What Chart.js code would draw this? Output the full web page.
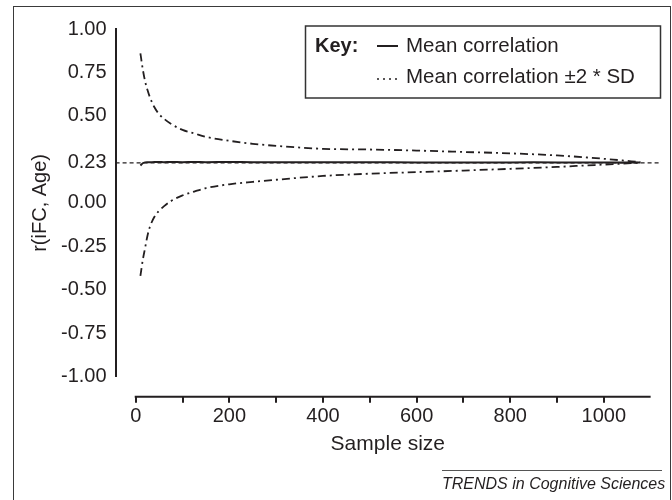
<!DOCTYPE html>
<html>
<head>
<meta charset="utf-8">
<title>Mean correlation by sample size</title>
<script src="https://cdn.jsdelivr.net/npm/chart.js@4.4.1/dist/chart.umd.min.js"></script>
<style>
    html, body { margin: 0; padding: 0; background: #fff; overflow: hidden; }
    #wrap { position: relative; width: 672px; height: 500px; }
    #frame { position: absolute; left: 13px; top: 6px; width: 658px; height: 520px; border: 1.5px solid #3a3a3a; box-sizing: border-box; }
    #chart { position: absolute; left: 0; top: 0; }
    #source {
        position: absolute; left: 442px; top: 470px; width: 220px;
        border-top: 1.5px solid #555; padding-top: 3px;
        font: italic 16px "Liberation Sans", Arial, sans-serif; line-height: 19px;
        color: #231f20; text-align: right; white-space: nowrap;
    }
</style>
</head>
<body>
<div id="wrap">
    <div id="frame"></div>
    <canvas id="chart" width="672" height="500"></canvas>
    <div id="source">TRENDS in Cognitive Sciences</div>
</div>
<script>
// valeurs
const sampleSize = [10, 15, 20, 25, 30, 40, 50, 60, 75, 100, 125, 150, 200, 250, 300, 400, 500, 600, 700, 800, 900, 960, 1020, 1078];
const meanCorr   = [0.215, 0.228, 0.233, 0.234, 0.234, 0.235, 0.235, 0.234, 0.235, 0.234, 0.235, 0.234, 0.235, 0.234, 0.234, 0.234, 0.234, 0.233, 0.233, 0.233, 0.233, 0.232, 0.232, 0.232];
const upperBand  = [0.86, 0.77, 0.70, 0.65, 0.61, 0.55, 0.51, 0.485, 0.455, 0.42, 0.40, 0.38, 0.357, 0.34, 0.328, 0.311, 0.307, 0.301, 0.293, 0.285, 0.273, 0.262, 0.249, 0.234];
const lowerBand  = [-0.42, -0.33, -0.26, -0.19, -0.14, -0.08, -0.045, -0.02, 0.01, 0.043, 0.065, 0.085, 0.107, 0.121, 0.133, 0.155, 0.168, 0.177, 0.186, 0.196, 0.207, 0.215, 0.223, 0.232];
const refCorr = 0.23;

const yTickValues = [1, 0.75, 0.5, 0.23, 0, -0.25, -0.5, -0.75, -1];
const xTickValues = [0, 100, 200, 300, 400, 500, 600, 700, 800, 900, 1000];
const xLabelValues = [0, 200, 400, 600, 800, 1000];
const xMin = -43;
const xMax = 1120;
const xAxisEnd = 1100;

const labelMean = "Mean correlation";
const labelBand = "Mean correlation \u00b12 * SD";

const ink = "#231f20";
const fontFamily = '"Liberation Sans", Arial, Helvetica, sans-serif';

Chart.defaults.font.family = fontFamily;
Chart.defaults.font.size = 20;
Chart.defaults.color = ink;

function serie(valeurs) {
    return sampleSize.map((n, i) => ({ x: n, y: valeurs[i] }));
}

// axe des x décalé sous la zone du graphique
const axeXDecale = {
    id: "axeXDecale",
    afterDraw(chart) {
        const { ctx, chartArea, scales } = chart;
        const x = scales.x;
        const y0 = chartArea.bottom + 20;
        ctx.save();
        ctx.strokeStyle = ink;
        ctx.lineWidth = 2;
        ctx.beginPath();
        ctx.moveTo(x.getPixelForValue(0) - 1, y0);
        ctx.lineTo(x.getPixelForValue(xAxisEnd), y0);
        x.ticks.forEach(t => {
            const px = Math.round(x.getPixelForValue(t.value));
            ctx.moveTo(px, y0);
            ctx.lineTo(px, y0 + 6);
        });
        ctx.stroke();
        ctx.restore();
    }
};

// encadré "Key:"
const cle = {
    id: "cle",
    afterDraw(chart) {
        const { ctx } = chart;
        const ds = chart.data.datasets;
        ctx.save();
        ctx.strokeStyle = "#333";
        ctx.lineWidth = 1.5;
        ctx.strokeRect(305.5, 26, 355, 72);

        ctx.fillStyle = ink;
        ctx.textBaseline = "middle";
        ctx.font = "bold 20px " + fontFamily;
        ctx.fillText("Key:", 315, 46);

        ctx.font = "20.5px " + fontFamily;
        ctx.fillText(ds[0].label, 406, 46);
        ctx.fillText(ds[1].label, 406, 77);

        ctx.strokeStyle = ink;
        ctx.lineWidth = 2;
        ctx.beginPath();
        ctx.moveTo(377, 46);
        ctx.lineTo(398, 46);
        ctx.stroke();

        ctx.lineWidth = 1.6;
        ctx.setLineDash([2, 4]);
        ctx.beginPath();
        ctx.moveTo(377, 79);
        ctx.lineTo(400, 79);
        ctx.stroke();
        ctx.restore();
    }
};

new Chart(document.getElementById("chart"), {
    type: "line",
    data: {
        datasets: [
            {
                label: labelMean,
                data: serie(meanCorr),
                borderColor: ink,
                borderWidth: 2,
                pointRadius: 0,
                tension: 0.3
            },
            {
                label: labelBand,
                data: serie(upperBand),
                borderColor: ink,
                borderWidth: 1.8,
                borderDash: [8, 4, 2, 4],
                pointRadius: 0,
                cubicInterpolationMode: "monotone"
            },
            {
                label: labelBand,
                data: serie(lowerBand),
                borderColor: ink,
                borderWidth: 1.8,
                borderDash: [8, 4, 2, 4],
                pointRadius: 0,
                cubicInterpolationMode: "monotone"
            },
            {
                label: "r = 0.23",
                data: [{ x: xMin, y: refCorr }, { x: xMax, y: refCorr }],
                borderColor: ink,
                borderWidth: 1.4,
                borderDash: [4, 3],
                pointRadius: 0
            }
        ]
    },
    options: {
        responsive: false,
        animation: false,
        layout: { padding: { top: 29, right: 12, bottom: 43, left: 28 } },
        plugins: {
            legend: { display: false },
            tooltip: { enabled: false }
        },
        scales: {
            x: {
                type: "linear",
                min: xMin,
                max: xMax,
                grid: { display: false, drawTicks: false },
                border: { display: false },
                afterBuildTicks: (scale) => {
                    scale.ticks = xTickValues.map(v => ({ value: v }));
                },
                ticks: {
                    padding: 28,
                    autoSkip: false,
                    maxRotation: 0,
                    callback: (v) => xLabelValues.includes(v) ? String(v) : ""
                },
                title: {
                    display: true,
                    text: "Sample size",
                    font: { size: 21 },
                    padding: { top: -25, bottom: 0 }
                }
            },
            y: {
                min: -1,
                max: 1,
                grid: { display: false, drawTicks: false },
                border: { display: true, color: ink, width: 2 },
                afterBuildTicks: (scale) => {
                    scale.ticks = yTickValues.map(v => ({ value: v }));
                },
                ticks: {
                    padding: 9,
                    autoSkip: false,
                    callback: (v) => Number(v).toFixed(2)
                },
                title: {
                    display: true,
                    text: "r(iFC, Age)",
                    padding: { top: 0, bottom: 0 }
                }
            }
        }
    },
    plugins: [axeXDecale, cle]
});
</script>
</body>
</html>
